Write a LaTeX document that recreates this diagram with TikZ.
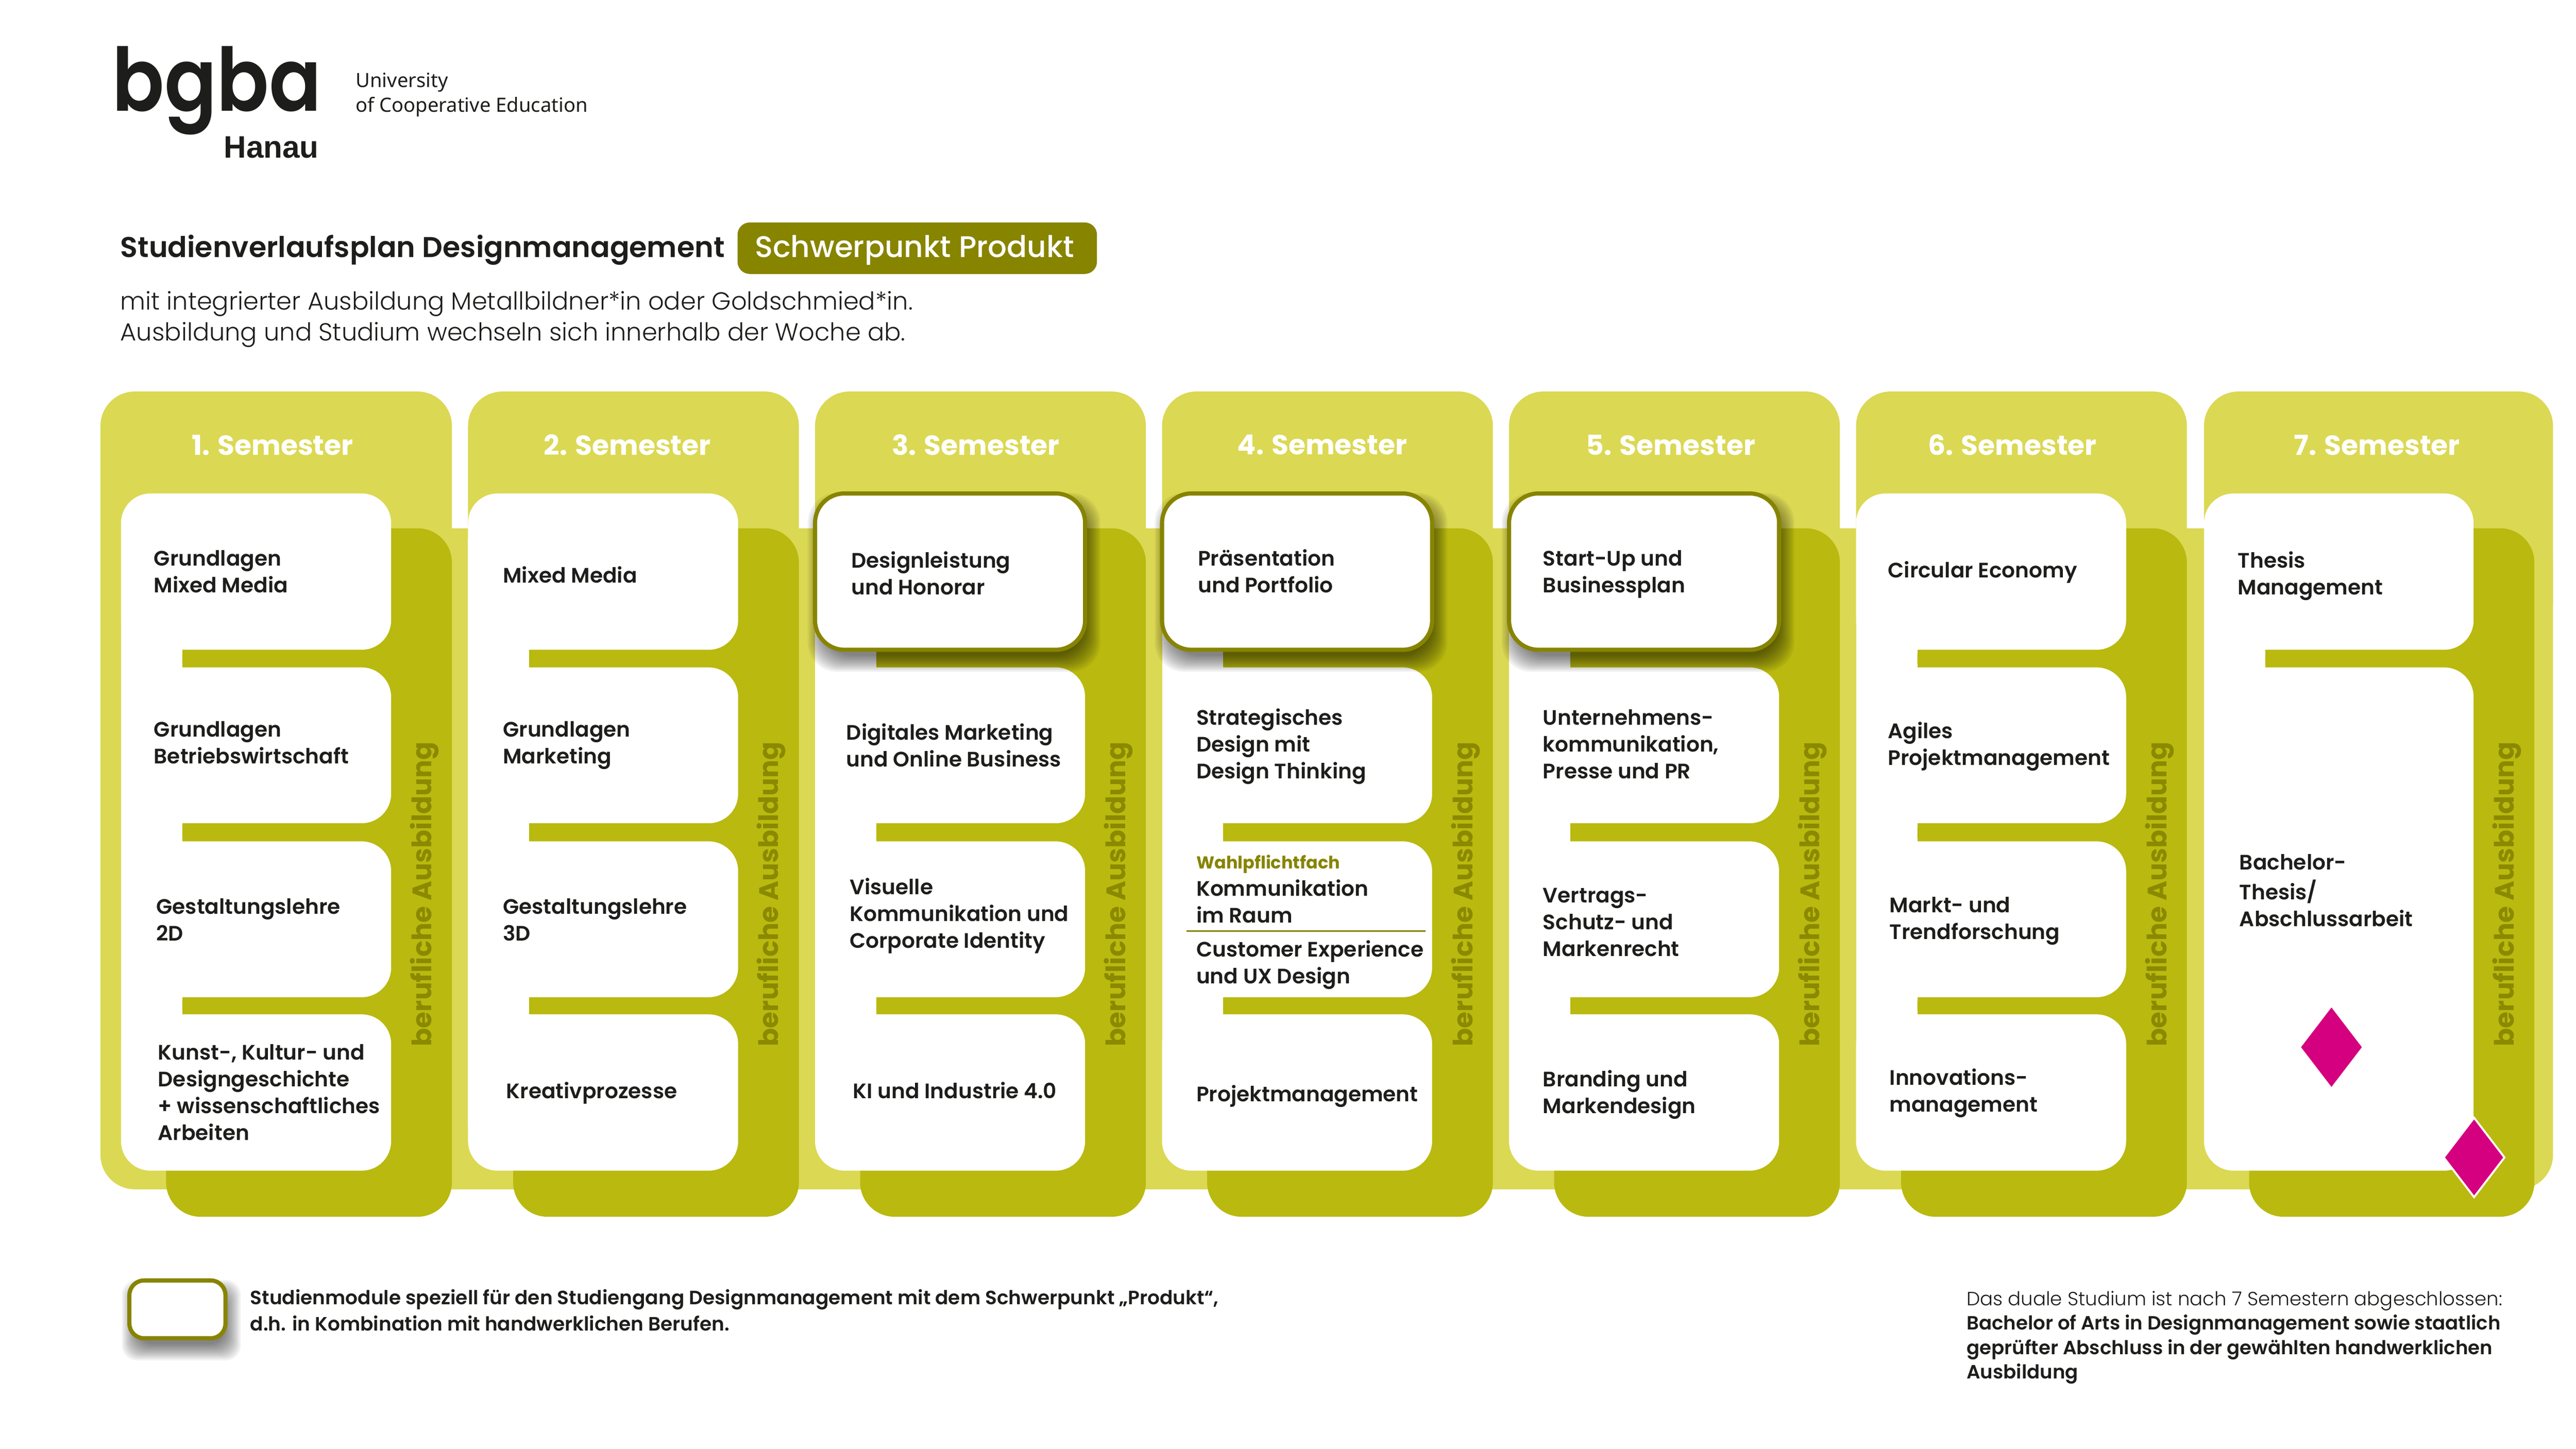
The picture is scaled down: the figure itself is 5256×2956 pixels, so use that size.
\documentclass[tikz,border=0pt]{standalone}
\usepackage{fontspec}
\setmainfont{Poppins}
\newfontfamily\fmed{Poppins Medium}
\newfontfamily\flgt{Poppins Light}
\newfontfamily\fsem{Poppins SemiBold}
\newfontfamily\fbld{Poppins Bold}
\newfontfamily\flogo{Noto Sans}
\newfontfamily\fhan{Liberation Sans}
\definecolor{lightc}{HTML}{DBD853}
\definecolor{darkc}{HTML}{B9B90F}
\definecolor{olive}{HTML}{878400}
\definecolor{ink}{HTML}{1D1D1B}
\definecolor{vert}{HTML}{8A8900}
\definecolor{mag}{HTML}{D5007F}
\newcommand\pxf[2]{\fontsize{#1}{#2}\selectfont}
\newcommand\mt[4]{\node[modtext] (#1) at ({#2*3.352},{#3*3.352+5}) {\strut #4\strut};}
\newcommand\shadowbox[5]{%
  \foreach \e in {-10,-7,...,23}
    \fill[black,opacity=0.05,rounded corners=#5] (#1+8-\e,#2+22-\e) rectangle (#3+8+\e,#4+22+\e);
}
\tikzset{
  x=0.01cm,y=-0.01cm,
  modtext/.style={anchor=west,align=left,inner sep=0,text=ink,font=\fsem\pxf{12.15}{15.55}},
  semlabel/.style={anchor=center,inner sep=0,text=white,font=\fbld\pxf{16}{18}},
  vertlabel/.style={anchor=west,rotate=90,inner sep=0,text=vert,font=\fbld\pxf{15.5}{20}},
  special/.style={draw=olive,line width=0.085cm,fill=white,rounded corners=0.6cm},
  speciallegend/.style={draw=olive,line width=0.085cm,fill=white,rounded corners=0.3cm},
}
\begin{document}
\begin{tikzpicture}
\useasboundingbox (0,0) rectangle (5256,2956);
\fill[white] (0,0) rectangle (5256,2956);
% light background
\fill[lightc,rounded corners=0.7cm] (205,1078) rectangle (5209,2427);
\foreach \ll/\lr in {205/922,955/1630,1663/2338,2371/3046,3079/3754,3787/4462,4497/5209}
  \fill[lightc,rounded corners=0.7cm] (\ll,799) rectangle (\lr,1300);
% columns
\foreach \wl/\wr/\dr/\bars in {247/798/922/1,955/1506/1630/1,1663/2214/2338/1,2371/2922/3046/1,3079/3630/3754/1,3787/4338/4462/1,4497/5047/5171/0}{
  \fill[darkc,rounded corners=0.7cm] (\wl+92,1078) rectangle (\dr,2483);
  \fill[white] (\wl,1100) rectangle (\wl+125,2300);
  \fill[darkc,rounded corners=0.1cm] (\wl+125,1326) rectangle (\wr+20,1362);
  \fill[white,rounded corners=0.6cm] (\wl,1007) rectangle (\wr,1326);
  \ifnum\bars=1
    \fill[darkc,rounded corners=0.1cm] (\wl+125,1680) rectangle (\wr+20,1717);
    \fill[darkc,rounded corners=0.1cm] (\wl+125,2035) rectangle (\wr+20,2070);
    \fill[white,rounded corners=0.6cm] (\wl+60,1362) rectangle (\wr,1680);
    \fill[white,rounded corners=0.6cm] (\wl+60,1717) rectangle (\wr,2035);
    \fill[white,rounded corners=0.6cm] (\wl,2070) rectangle (\wr,2389);
  \else
    \fill[white,rounded corners=0.6cm] (\wl,1362) rectangle (\wr,2389);
    \fill[white] (\wl,1362) rectangle (\wl+125,1500);
  \fi
}
% highlighted modules
\foreach \wl/\wr in {1663/2214,2371/2922,3079/3630}{
  \shadowbox{\wl}{1007}{\wr}{1326}{0.6cm}
  \path[special] (\wl,1007) rectangle (\wr,1326);
}
% semester labels and vertical labels
\foreach \n/\cx/\vx in {1/556/866,2/1280/1574,3/1991/2282,4/2698/2990,5/3409/3698,6/4106/4406,7/4850/5115}{
  \node[semlabel] (sem\n) at (\cx,908) {\n. Semester};
  \node[vertlabel] (ausb\n) at (\vx,2136) {berufliche Ausbildung};
}
% column 1
\mt{a1}{93.5}{348}{Grundlagen\\Mixed Media}
\mt{a2}{93.5}{452}{Grundlagen\\Betriebswirtschaft}
\mt{a3}{95}{560}{Gestaltungslehre\\2D}
\mt{a4}{96}{665}{Kunst-, Kultur- und\\Designgeschichte\\+ wissenschaftliches\\Arbeiten}
% column 2
\mt{b1}{306}{350}{Mixed Media}
\mt{b2}{306}{452}{Grundlagen\\Marketing}
\mt{b3}{306}{560}{Gestaltungslehre\\3D}
\mt{b4}{308}{664}{Kreativprozesse}
% column 3
\mt{c1}{518}{349}{Designleistung\\und Honorar}
\mt{c2}{515}{454}{Digitales Marketing\\und Online Business}
\mt{c3}{517}{556}{Visuelle\\Kommunikation und\\Corporate Identity}
\mt{c4}{519}{664}{KI und Industrie 4.0}
% column 4
\mt{d1}{729}{348}{Präsentation\\und Portfolio}
\mt{d2}{728}{453}{Strategisches\\Design mit\\Design Thinking}
\node[modtext,text=olive,font=\fbld\pxf{10}{12}] (d3w) at ({728*3.352},{526*3.352}) {Wahlpflichtfach};
\mt{d3a}{728}{549}{Kommunikation\\im Raum}
\coordinate (sepl) at (2421,1900);
\coordinate (sepr) at (2909,1900);
\draw[olive,line width=0.035cm] (sepl) -- (sepr);
\mt{d3b}{728}{586}{Customer Experience\\und UX Design}
\mt{d4}{728}{666}{Projektmanagement}
% column 5
\mt{e1}{939}{348}{Start-Up und\\Businessplan}
\mt{e2}{939}{453}{Unternehmens-\\kommunikation,\\Presse und PR}
\mt{e3}{939}{561}{Vertrags-\\Schutz- und\\Markenrecht}
\mt{e4}{939}{665}{Branding und\\Markendesign}
% column 6
\mt{f1}{1149}{347}{Circular Economy}
\mt{f2}{1149}{453}{Agiles\\Projektmanagement}
\mt{f3}{1150}{559}{Markt- und\\Trendforschung}
\mt{f4}{1150}{664}{Innovations-\\management}
% column 7
\mt{g1}{1362}{349}{Thesis\\Management}
\mt{g2}{1363}{542}{Bachelor-\\Thesis/\\Abschlussarbeit}
% diamonds
\fill[mag] (4695,2137) -- (4757,2056) -- (4819,2137) -- (4757,2218) -- cycle;
\filldraw[mag,draw=white,line width=0.04cm] (4986,2362) -- (5048,2281) -- (5110,2362) -- (5048,2443) -- cycle;
% header
\node[inner sep=0,anchor=base west,text=ink] (logo) at (228,226) {\scalebox{0.83}[0.94]{\fsem\pxf{54}{60}bgba}};
\node[inner sep=0,anchor=base east,text=ink,font=\fhan\bfseries\pxf{18}{20}] (hanau) at (651,322) {Hanau};
\node[inner sep=0,anchor=west,align=left,text=ink,font=\flogo\pxf{11.4}{14.3}] (uni) at (725,193) {\strut University\\of Cooperative Education\strut};
\node[inner sep=0,anchor=west,text=ink,font=\fsem\pxf{16.6}{20}] (title) at (245,510) {Studienverlaufsplan Designmanagement};
\node[fill=olive,rounded corners=0.25cm,inner sep=0,minimum width=7.33cm,minimum height=1.05cm] (pill) at (1871.5,506.5) {};
\node[inner sep=0,text=white,font=\fmed\pxf{17.3}{20}] (pilltext) at (1866,510) {Schwerpunkt Produkt};
\node[inner sep=0,anchor=west,align=left,text=ink,font=\flgt\pxf{14.32}{18}] (sub) at (245,652) {mit integrierter Ausbildung Metallbildner*in oder Goldschmied*in.\\Ausbildung und Studium wechseln sich innerhalb der Woche ab.};
% legend
\shadowbox{264}{2613}{460}{2731}{0.3cm}
\path[speciallegend] (264,2613) rectangle (460,2731);
\node[modtext,font=\fsem\pxf{11.2}{15.3}] (leg) at (510,2678) {\strut Studienmodule speziell für den Studiengang Designmanagement mit dem Schwerpunkt „Produkt“,\\d.h. in Kombination mit handwerklichen Berufen.\strut};
\node[modtext,font=\fsem\pxf{11.1}{14.2}] (note) at (4012,2729) {\strut{\flgt Das duale Studium ist nach 7 Semestern abgeschlossen:}\\Bachelor of Arts in Designmanagement sowie staatlich\\geprüfter Abschluss in der gewählten handwerklichen\\Ausbildung\strut};
\end{tikzpicture}
\end{document}
